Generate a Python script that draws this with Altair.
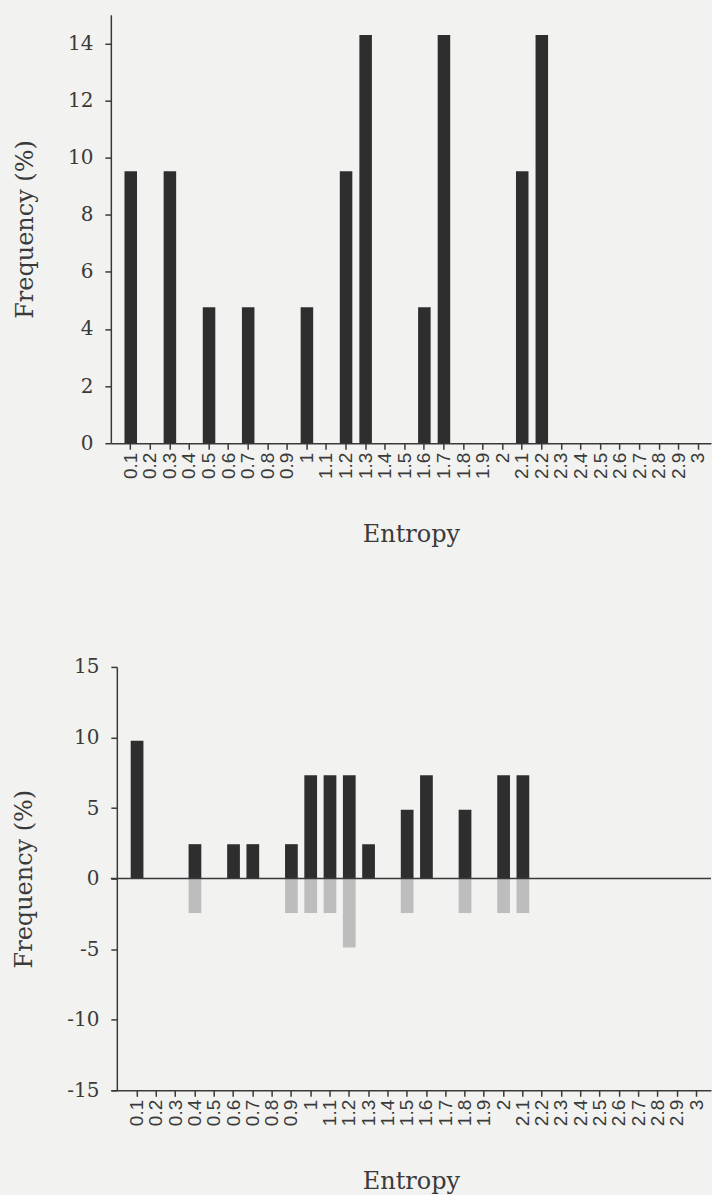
import altair as alt
import pandas as pd

# Entropy bins shown on both horizontal axes
entropy_bins = [
    "0.1", "0.2", "0.3", "0.4", "0.5", "0.6", "0.7", "0.8", "0.9", "1",
    "1.1", "1.2", "1.3", "1.4", "1.5", "1.6", "1.7", "1.8", "1.9", "2",
    "2.1", "2.2", "2.3", "2.4", "2.5", "2.6", "2.7", "2.8", "2.9", "3",
]

# Upper panel: frequency (%) per entropy bin
top_bins = ["0.1", "0.3", "0.5", "0.7", "1", "1.2", "1.3", "1.6", "1.7", "2.1", "2.2"]
top_freq = [9.52, 9.52, 4.76, 4.76, 4.76, 9.52, 14.29, 4.76, 14.29, 9.52, 14.29]

# Lower panel: dark bars above zero, light bars below zero
pos_bins = ["0.1", "0.4", "0.6", "0.7", "0.9", "1", "1.1", "1.2", "1.3", "1.5", "1.6", "1.8", "2", "2.1"]
pos_freq = [9.76, 2.44, 2.44, 2.44, 2.44, 7.32, 7.32, 7.32, 2.44, 4.88, 7.32, 4.88, 7.32, 7.32]
neg_bins = ["0.4", "0.9", "1", "1.1", "1.2", "1.5", "1.8", "2", "2.1"]
neg_freq = [-2.44, -2.44, -2.44, -2.44, -4.88, -2.44, -2.44, -2.44, -2.44]

top_ticks = [0, 2, 4, 6, 8, 10, 12, 14]
bottom_ticks = [-15, -10, -5, 0, 5, 10, 15]

DARK = "#2e2e2e"
LIGHT = "#bdbdbd"
INK = "#3a3a3a"
PAPER = "#f2f2f1"
SERIF = "DejaVu Serif"
SANS = "Liberation Sans"

top_df = pd.DataFrame({"entropy": top_bins, "freq": top_freq})
pos_df = pd.DataFrame({"entropy": pos_bins, "freq": pos_freq})
neg_df = pd.DataFrame({"entropy": neg_bins, "freq": neg_freq})


def x_axis():
    return alt.Axis(
        title="Entropy", labelAngle=270, labelFont=SANS, labelFontSize=19,
        labelColor=INK, labelPadding=3, tickSize=6, tickColor=INK, tickWidth=1.5,
        domainColor=INK, domainWidth=1.5, titleFont=SERIF, titleFontSize=24,
        titleFontWeight="normal", titleColor=INK, titlePadding=44, grid=False,
    )


def y_axis(ticks, offset=0):
    return alt.Axis(
        title="Frequency (%)", values=ticks, labelExpr="'' + datum.value",
        labelFont=SERIF, labelFontSize=20, labelColor=INK, labelPadding=12,
        tickSize=6, tickColor=INK, tickWidth=1.5, domainColor=INK, domainWidth=1.5,
        titleFont=SERIF, titleFontSize=24, titleFontWeight="normal",
        titleColor=INK, titlePadding=30, grid=False, offset=offset,
    )


top = alt.Chart(top_df).mark_bar(color=DARK).encode(
    x=alt.X("entropy:N", sort=entropy_bins,
            scale=alt.Scale(domain=entropy_bins, paddingInner=0.36,
                            paddingOuter=0.51, align=0.683),
            axis=x_axis()),
    y=alt.Y("freq:Q", scale=alt.Scale(domain=[0, 15], nice=False), axis=y_axis(top_ticks)),
).properties(width=601, height=429)

# The lower value axis sits 6 px inside the plot's left edge; the x-axis line
# and the zero rule start under its outward ticks.
x_low = alt.X("entropy:N", sort=entropy_bins,
              scale=alt.Scale(domain=entropy_bins, paddingInner=0.34,
                              paddingOuter=0.725, align=0.71),
              axis=x_axis())
y_low = alt.Y("freq:Q", scale=alt.Scale(domain=[-15, 15], nice=False),
              axis=y_axis(bottom_ticks, offset=-6))

neg_bars = alt.Chart(neg_df).mark_bar(color=LIGHT).encode(x=x_low, y=y_low)
pos_bars = alt.Chart(pos_df).mark_bar(color=DARK).encode(x=x_low, y=y_low)
zero_line = alt.Chart(pd.DataFrame({"z": [0]})).mark_rule(color=INK, strokeWidth=1.5).encode(y="z:Q")

bottom = alt.layer(neg_bars, pos_bars, zero_line).properties(width=601, height=424)

chart = alt.concat(top, bottom, columns=1, spacing=110).properties(
    background=PAPER,
    padding={"left": 12, "top": 14, "right": 0, "bottom": 0},
).configure_view(stroke=None)

chart.save("out.html", embed_options={"renderer": "svg", "actions": False})
